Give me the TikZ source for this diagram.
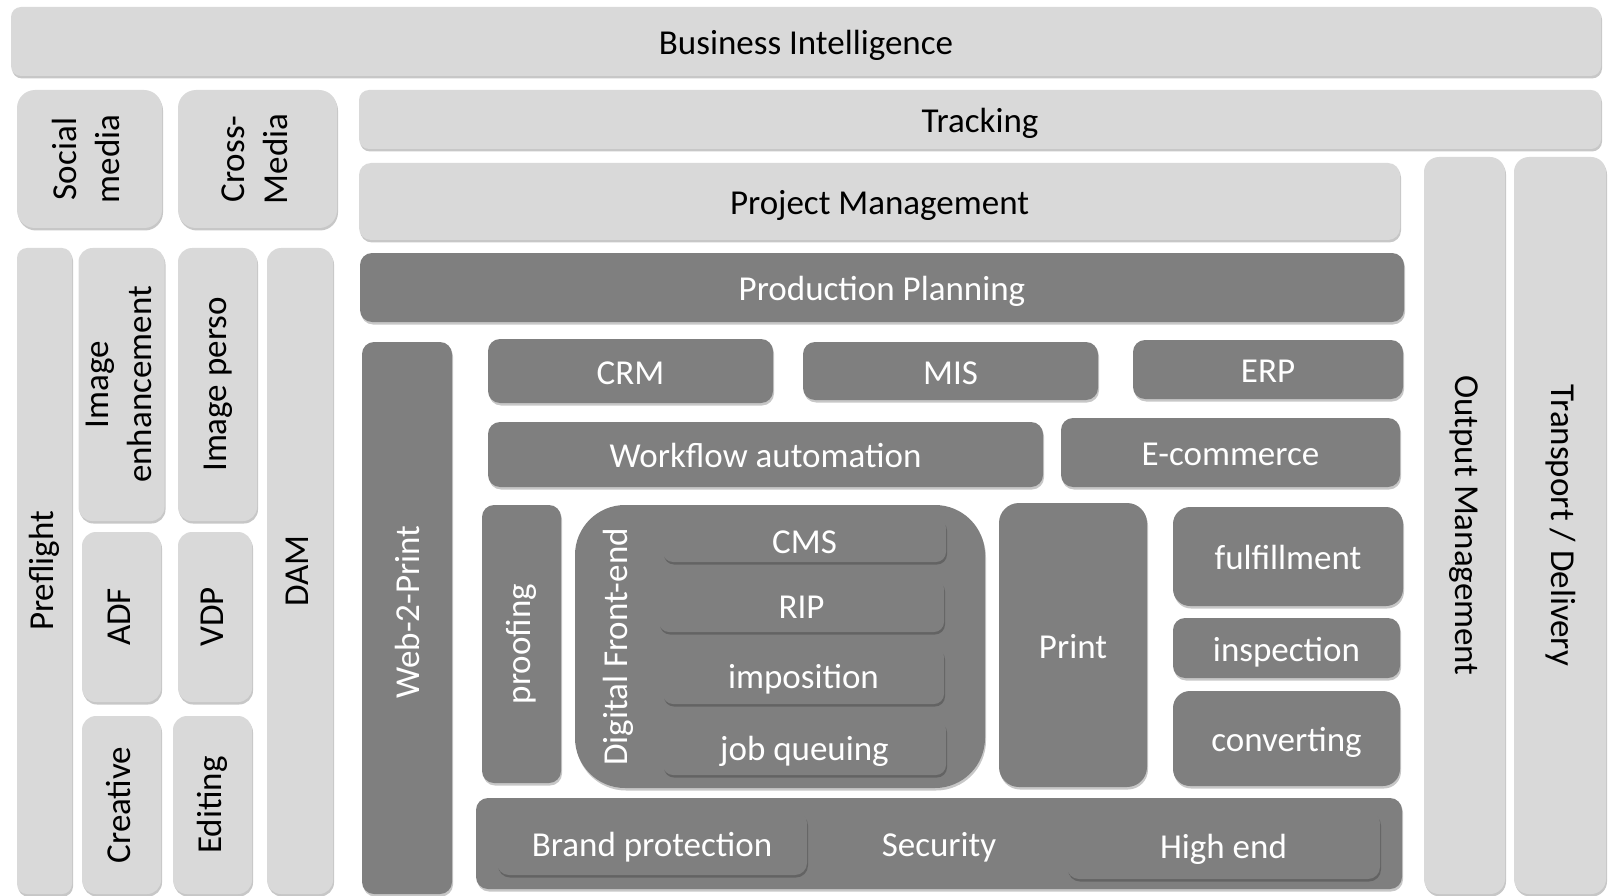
\documentclass[tikz,border=0pt]{standalone}
\usepackage{fontspec}
\setmainfont{Carlito}
\usetikzlibrary{shadows}
\definecolor{lightg}{HTML}{D9D9D9}
\definecolor{darkg}{HTML}{7F7F7F}
\tikzset{
  box/.style={rounded corners=12pt, inner sep=0pt, draw=none,
    font=\fontsize{35}{43}\selectfont,
    drop shadow={shadow xshift=1pt, shadow yshift=-2.5pt, opacity=0.22, fill=black}},
  lightbox/.style={box, fill=lightg, text=black},
  darkbox/.style={box, fill=darkg, text=white},
  hz/.style={text height=29pt, text depth=3pt},
  plaintext/.style={inner sep=0pt, font=\fontsize{35}{43}\selectfont, text=white}
}
\newcommand\bx[7]{%
  \pgfmathsetmacro\bxw{#4-#2}\pgfmathsetmacro\bxh{#5-#3}%
  \pgfmathsetmacro\bxcx{(#2+#4)/2}\pgfmathsetmacro\bxcy{(#3+#5)/2}%
  \node[#6, minimum width=\bxw pt, minimum height=\bxh pt] (#1) at (\bxcx,\bxcy) {#7};}
\newcommand\rup[1]{\rotatebox{90}{\begin{tabular}{@{}c@{}}#1\end{tabular}}}
\newcommand\rdown[1]{\rotatebox{-90}{\begin{tabular}{@{}c@{}}#1\end{tabular}}}
\begin{document}
\begin{tikzpicture}[x=1pt,y=-1pt]
\useasboundingbox (0,0) rectangle (1609,896);
% light boxes
\bx{bi}{11}{7}{1601}{76}{lightbox, hz, rounded corners=10pt}{Business Intelligence}
\bx{social}{17}{90}{162}{228}{lightbox, rounded corners=18pt}{\rup{Social\\media}}
\bx{cross}{178}{90}{337}{228}{lightbox, rounded corners=18pt}{\rup{Cross-\\Media}}
\bx{track}{359}{90}{1601}{149}{lightbox, hz, rounded corners=10pt}{Tracking}
\bx{pm}{359}{163}{1400}{240}{lightbox, hz}{Project Management}
\bx{om}{1424}{157}{1505}{894}{lightbox, rounded corners=15pt}{\rdown{Output Management}}
\bx{td}{1514}{157}{1606}{894}{lightbox, rounded corners=15pt}{\rdown{Transport / Delivery}}
\bx{pre}{17}{248}{72}{894}{lightbox, rounded corners=10pt}{\rup{Preflight}}
\bx{ienh}{82}{248}{161}{521}{lightbox, rounded corners=14pt}{\rup{Image\\enhancement}}
\bx{adf}{82}{532}{161}{702}{lightbox, rounded corners=14pt}{\rup{ADF}}
\bx{crea}{82}{716}{161}{894}{lightbox, rounded corners=14pt}{\rup{Creative}}
\bx{iper}{178}{248}{257}{521}{lightbox, rounded corners=14pt}{\rup{Image perso}}
\bx{vdp}{178}{532}{252}{702}{lightbox, rounded corners=14pt}{\rup{VDP}}
\bx{edit}{173}{716}{252}{894}{lightbox, rounded corners=14pt}{\rup{Editing}}
\bx{dam}{267}{248}{333}{894}{lightbox, rounded corners=14pt}{\rup{DAM}}
% dark boxes
\bx{pp}{360}{253}{1404}{322}{darkbox, hz}{Production Planning}
\bx{w2p}{362}{342}{452}{894}{darkbox}{}
\node[plaintext, rotate=90] (w2ptext) at (407,612) {Web-2-Print};
\bx{crm}{488}{339}{773}{403}{darkbox, hz}{CRM}
\bx{mis}{803}{342}{1098}{400}{darkbox, hz}{MIS}
\bx{erp}{1133}{340}{1403}{399}{darkbox, hz}{ERP}
\bx{wf}{488}{422}{1043}{487}{darkbox, hz}{Workflow automation}
\bx{ecom}{1061}{418}{1400}{487}{darkbox, hz}{E-commerce}
\bx{proof}{482}{505}{561}{783}{darkbox}{\rup{proofing}}
\bx{dfe}{575}{505}{985}{788}{darkbox, rounded corners=50pt}{}
\node[plaintext, rotate=90] (dfetext) at (618,647) {Digital Front-end};
\bx{cms}{663}{518}{946}{562}{darkbox, hz, rounded corners=10pt}{CMS}
\bx{rip}{659}{579}{944}{632}{darkbox, hz, rounded corners=10pt}{RIP}
\bx{impo}{663}{647}{944}{704}{darkbox, hz, rounded corners=10pt}{imposition}
\bx{jobq}{663}{720}{946}{775}{darkbox, hz, rounded corners=10pt}{job queuing}
\bx{print}{999}{503}{1147}{787}{darkbox, hz, rounded corners=20pt}{Print}
\bx{fulf}{1173}{507}{1403}{606}{darkbox, hz, rounded corners=17pt}{fulfillment}
\bx{insp}{1173}{618}{1400}{678}{darkbox, hz}{inspection}
\bx{conv}{1173}{691}{1400}{786}{darkbox, hz, rounded corners=17pt}{converting}
\bx{sec}{476}{798}{1402}{889}{darkbox, hz}{Security}
\bx{brand}{497}{811}{807}{875}{darkbox, hz}{Brand protection}
\bx{high}{1067}{811}{1380}{879}{darkbox, hz}{High end}
\end{tikzpicture}
\end{document}
